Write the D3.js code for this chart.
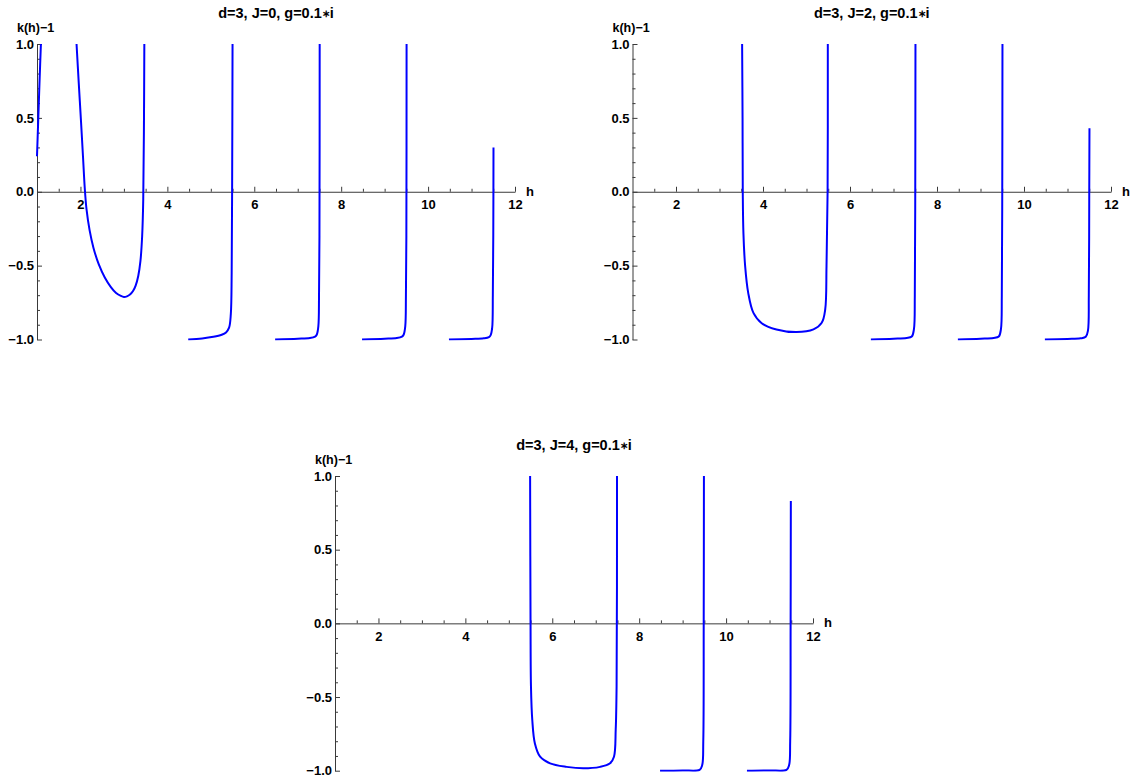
<!DOCTYPE html>
<html>
<head>
<meta charset="utf-8">
<script src="https://cdn.jsdelivr.net/npm/d3@7"></script>
<style>
  html, body { margin: 0; padding: 0; background: #fff; }
  svg { display: block; }
  text { font-family: "Liberation Sans", Arial, sans-serif; font-weight: bold; fill: #000; }
</style>
</head>
<body>
<svg id="chart" width="1133" height="781"></svg>
<script>
// ---------- data ----------
const panelTitles = ["d=3, J=0, g=0.1\u2217i", "d=3, J=2, g=0.1\u2217i", "d=3, J=4, g=0.1\u2217i"];
const xAxisLabel = "h";
const yAxisLabel = "k(h)\u22121";
const xMajorTicks = [2, 4, 6, 8, 10, 12];
const xMinorTicks = [1.5, 2.5, 3, 3.5, 4.5, 5, 5.5, 6.5, 7, 7.5, 8.5, 9, 9.5, 10.5, 11, 11.5];
const yMajorTicks = [-1, -0.5, 0, 0.5, 1];
const yMinorTicks = [-0.9, -0.8, -0.7, -0.6, -0.4, -0.3, -0.2, -0.1, 0.1, 0.2, 0.3, 0.4, 0.6, 0.7, 0.8, 0.9];

// J = 0 branches  [h, k(h)-1]
const j0Branch1 = [[1.0, 0.24], [1.03, 0.5], [1.06, 0.76], [1.09, 1.0]];
const j0Branch2 = [[1.91, 1.0], [1.96, 0.74], [2.01, 0.49], [2.06, 0.23], [2.10, 0.02], [2.14, -0.12], [2.21, -0.26],
                   [2.30, -0.38], [2.42, -0.49], [2.56, -0.58], [2.70, -0.645], [2.82, -0.685], [2.93, -0.705],
                   [3.0, -0.712], [3.07, -0.708], [3.14, -0.696], [3.21, -0.672], [3.27, -0.635], [3.33, -0.57],
                   [3.38, -0.47], [3.42, -0.3], [3.445, -0.05], [3.46, 0.4], [3.47, 1.0]];
const j0Branch3 = [[4.48, -1.0], [4.8, -0.993], [5.06, -0.982], [5.25, -0.968], [5.35, -0.952], [5.42, -0.92],
                   [5.46, -0.83], [5.48, -0.55], [5.49, 0], [5.5, 1.0]];
const j0Branch4 = [[6.48, -1.0], [7.0, -0.995], [7.28, -0.99], [7.4, -0.98], [7.44, -0.966], [7.475, -0.91],
                   [7.49, -0.7], [7.5, -0.3], [7.505, 1.0]];
const j0Branch5 = [[8.48, -1.0], [9.0, -0.995], [9.28, -0.99], [9.4, -0.98], [9.44, -0.966], [9.475, -0.91],
                   [9.49, -0.7], [9.5, -0.3], [9.505, 1.0]];
const j0Branch6 = [[10.48, -1.0], [11.0, -0.996], [11.28, -0.992], [11.4, -0.984], [11.44, -0.97], [11.475, -0.92],
                   [11.49, -0.7], [11.5, -0.3], [11.505, 0.30]];

// J = 2 branches
const j2Branch1 = [[3.52, 1.0], [3.53, 0.5], [3.535, 0], [3.55, -0.28], [3.59, -0.505], [3.66, -0.684], [3.78, -0.82],
                   [3.97, -0.89], [4.31, -0.932], [4.77, -0.95], [5.16, -0.932], [5.35, -0.887], [5.43, -0.797],
                   [5.46, -0.505], [5.485, 0], [5.49, 1.0]];
const j2Branch2 = [[6.48, -1.0], [7.0, -0.995], [7.3, -0.99], [7.42, -0.98], [7.47, -0.93], [7.49, -0.7],
                   [7.5, 0], [7.505, 1.0]];
const j2Branch3 = [[8.48, -1.0], [9.0, -0.995], [9.3, -0.99], [9.42, -0.98], [9.47, -0.93], [9.49, -0.7],
                   [9.5, 0], [9.505, 1.0]];
const j2Branch4 = [[10.48, -1.0], [11.0, -0.996], [11.3, -0.992], [11.42, -0.982], [11.47, -0.94], [11.49, -0.7],
                   [11.5, 0], [11.505, 0.43]];

// J = 4 branches
const j4Branch1 = [[5.49, 1.0], [5.5, 0], [5.51, -0.43], [5.54, -0.656], [5.60, -0.815], [5.72, -0.905], [5.95, -0.95],
                   [6.33, -0.974], [6.71, -0.984], [7.10, -0.974], [7.33, -0.95], [7.42, -0.905], [7.46, -0.72],
                   [7.48, -0.43], [7.49, 1.0]];
const j4Branch2 = [[8.48, -1.0], [9.0, -0.998], [9.39, -0.994], [9.45, -0.962], [9.475, -0.8], [9.485, 0], [9.49, 1.0]];
const j4Branch3 = [[10.48, -1.0], [11.0, -0.998], [11.39, -0.994], [11.45, -0.962], [11.475, -0.8], [11.485, 0], [11.49, 0.83]];

// ---------- layout ----------
const panels = [
  { title: panelTitles[0], left: 37,    right: 515,   top: 44,  bottom: 339.5, titleY: 18,
    branches: [j0Branch1, j0Branch2, j0Branch3, j0Branch4, j0Branch5, j0Branch6] },
  { title: panelTitles[1], left: 632.5, right: 1111,  top: 44,  bottom: 339.5, titleY: 18,
    branches: [j2Branch1, j2Branch2, j2Branch3, j2Branch4] },
  { title: panelTitles[2], left: 335,   right: 813,   top: 476, bottom: 770.7, titleY: 450,
    branches: [j4Branch1, j4Branch2, j4Branch3] }
];

const svg = d3.select("#chart");
const axisColor = "#3a3a3a";
const tickFont = 13;

panels.forEach((p, i) => {
  const x = d3.scaleLinear().domain([1, 12]).range([p.left, p.right]);
  const y = d3.scaleLinear().domain([-1, 1]).range([p.bottom, p.top]);
  const g = svg.append("g");

  const clipId = "clip" + i;
  g.append("clipPath").attr("id", clipId).append("rect")
    .attr("x", p.left - 2).attr("y", p.top - 1)
    .attr("width", p.right - p.left + 4).attr("height", p.bottom - p.top + 2);

  // y axis minor
  g.append("g").attr("transform", `translate(${x(1)},0)`)
    .call(d3.axisLeft(y).tickValues(yMinorTicks).tickSizeInner(-3).tickSizeOuter(0).tickFormat(""))
    .call(s => { s.select(".domain").remove(); s.selectAll("line").attr("stroke", axisColor); });
  // y axis major
  g.append("g").attr("transform", `translate(${x(1)},0)`)
    .call(d3.axisLeft(y).tickValues(yMajorTicks).tickSizeInner(-5).tickSizeOuter(0).tickPadding(3)
      .tickFormat(d => d3.format(".1f")(d).replace("-", "\u2212")))
    .call(s => {
      s.select(".domain").attr("stroke", axisColor);
      s.selectAll("line").attr("stroke", axisColor);
      s.selectAll("text").attr("font-size", tickFont).attr("font-family", null).attr("fill", "#000");
    });

  // x axis minor
  g.append("g").attr("transform", `translate(0,${y(0)})`)
    .call(d3.axisBottom(x).tickValues(xMinorTicks).tickSizeInner(-3).tickSizeOuter(0).tickFormat(""))
    .call(s => { s.select(".domain").remove(); s.selectAll("line").attr("stroke", axisColor); });
  // x axis major
  g.append("g").attr("transform", `translate(0,${y(0)})`)
    .call(d3.axisBottom(x).tickValues(xMajorTicks).tickSizeInner(-5).tickSizeOuter(0).tickPadding(8)
      .tickFormat(d3.format("d")))
    .call(s => {
      s.select(".domain").attr("stroke", axisColor);
      s.selectAll("line").attr("stroke", axisColor);
      s.selectAll("text").attr("font-size", tickFont).attr("font-family", null).attr("fill", "#000");
    });

  // curves
  const line = d3.line().x(d => x(d[0])).y(d => y(d[1])).curve(d3.curveCatmullRom.alpha(0.5));
  g.append("g").attr("clip-path", `url(#${clipId})`)
    .selectAll("path").data(p.branches).join("path")
    .attr("d", line)
    .attr("fill", "none")
    .attr("stroke", "#0000ff")
    .attr("stroke-width", 2)
    .attr("stroke-linejoin", "round");

  // title (star glyph drawn smaller, as in the original)
  const parts = p.title.split("\u2217");
  const t = g.append("text").attr("x", (p.left + p.right) / 2).attr("y", p.titleY)
    .attr("text-anchor", "middle").attr("font-size", 14.5);
  t.append("tspan").text(parts[0]);
  t.append("tspan").attr("font-size", 10).attr("dy", -1).text("\u2217");
  t.append("tspan").attr("dy", 1).text(parts[1]);

  g.append("text").attr("x", p.left - 20).attr("y", p.top - 12)
    .attr("font-size", 12.5).text(yAxisLabel);
  g.append("text").attr("x", p.right + 11).attr("y", y(0) + 4)
    .attr("font-size", 13).text(xAxisLabel);
});
</script>
</body>
</html>
